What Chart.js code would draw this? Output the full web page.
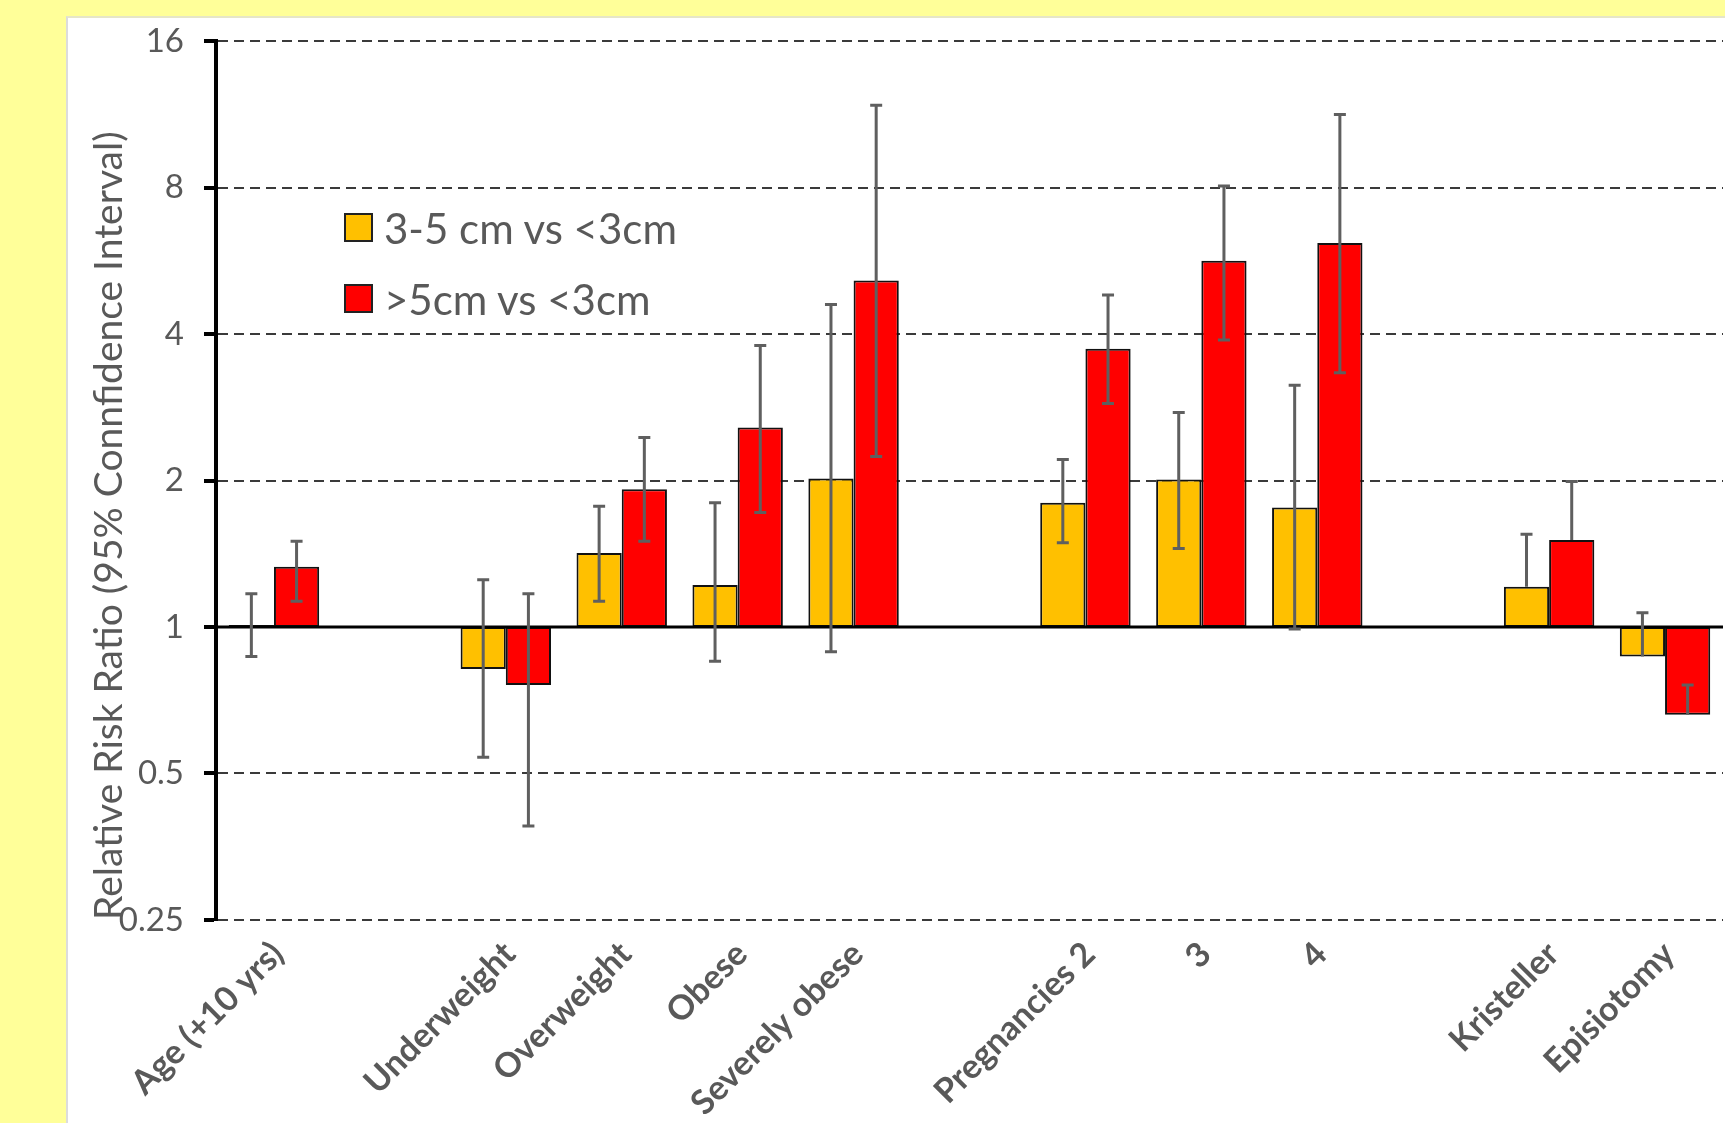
<!DOCTYPE html>
<html>
<head>
<meta charset="utf-8">
<script src="https://cdn.jsdelivr.net/npm/chart.js@4"></script>
<style>
  html, body { margin: 0; padding: 0; background: #FFFF99; width: 1725px; height: 1123px; overflow: hidden; }
  #panel { position: absolute; left: 66px; top: 16px; width: 1665px; height: 1110px; background: #fff; border-left: 2px solid #dcdcdc; border-top: 2px solid #e6e6c8; }
  #wrap { position: absolute; left: 0; top: 0; width: 1725px; height: 1123px; }
  #legend { position: absolute; left: 344px; top: 192px; font-family: Lato, sans-serif; font-size: 42px; color: #595959; }
  #legend .row { height: 71px; display: flex; align-items: center; }
  #legend .box { width: 25px; height: 25px; border: 2px solid #222; margin-right: 11px; }
</style>
</head>
<body>
<div id="panel"></div>
<div id="wrap"><canvas id="riskChart" width="1725" height="1123"></canvas></div>
<div id="legend"></div>
<script>
// categories (empty strings are the gaps between groups)
const categories = ['Age (+10 yrs)', '', 'Underweight', 'Overweight', 'Obese', 'Severely obese', '',
    'Pregnancies 2', '3', '4', '', 'Kristeller', 'Episiotomy'];

const seriesNames = ['3-5 cm vs <3cm', '>5cm vs <3cm'];
const seriesColors = ['#FFC000', '#FF0000'];

// relative risk ratios and 95% CI, 3-5 cm vs <3cm
const rr35 = [1.01, null, 0.82, 1.42, 1.22, 2.02, null, 1.80, 2.01, 1.76, null, 1.21, 0.87];
const lo35 = [0.87, null, 0.54, 1.13, 0.85, 0.89, null, 1.49, 1.45, 0.99, null, null, null];
const hi35 = [1.17, null, 1.25, 1.77, 1.80, 4.60, null, 2.21, 2.76, 3.14, null, 1.55, 1.07];

// >5cm vs <3cm
const rr5 = [1.33, null, 0.76, 1.92, 2.57, 5.15, null, 3.73, 5.66, 6.15, null, 1.51, 0.66];
const lo5 = [1.13, null, 0.39, 1.50, 1.72, 2.24, null, 2.88, 3.89, 3.33, null, null, null];
const hi5 = [1.50, null, 1.17, 2.45, 3.79, 11.8, null, 4.81, 8.06, 11.3, null, 1.99, 0.76];

const yTicks = [0.25, 0.5, 1, 2, 4, 8, 16];

// html legend
const legendEl = document.getElementById('legend');
seriesNames.forEach((name, i) => {
    const row = document.createElement('div');
    row.className = 'row';
    const box = document.createElement('div');
    box.className = 'box';
    box.style.background = seriesColors[i];
    const txt = document.createElement('span');
    txt.textContent = name;
    row.appendChild(box);
    row.appendChild(txt);
    legendEl.appendChild(row);
});

// bars grow from 1 on the log scale
const fromOne = arr => arr.map(v => v == null ? null : [1, v]);

// draws the axis line at 1 and the CI whiskers
const errorBars = {
    id: 'errorBars',
    afterDatasetsDraw(chart) {
        const { ctx, chartArea, scales: { y } } = chart;
        const base = y.getPixelForValue(1);
        ctx.save();
        ctx.strokeStyle = '#000';
        ctx.lineWidth = 3;
        ctx.beginPath();
        ctx.moveTo(chartArea.left, base);
        ctx.lineTo(chartArea.right, base);
        ctx.stroke();

        ctx.strokeStyle = '#5f5f5f';
        ctx.lineWidth = 3;
        chart.data.datasets.forEach((ds, i) => {
            const meta = chart.getDatasetMeta(i);
            meta.data.forEach((bar, j) => {
                const hi = ds.hi[j];
                if (hi == null) return;
                const lo = ds.lo[j];
                const x = bar.x;
                const yHi = y.getPixelForValue(hi);
                const yLo = lo == null ? y.getPixelForValue(ds.rr[j]) : y.getPixelForValue(lo);
                ctx.beginPath();
                ctx.moveTo(x, yHi);
                ctx.lineTo(x, yLo);
                ctx.moveTo(x - 6, yHi);
                ctx.lineTo(x + 6, yHi);
                if (lo != null) {
                    ctx.moveTo(x - 6, yLo);
                    ctx.lineTo(x + 6, yLo);
                }
                ctx.stroke();
            });
        });
        ctx.restore();
    }
};

const ctx = document.getElementById('riskChart').getContext('2d');

const riskChart = new Chart(ctx, {
    type: 'bar',
    data: {
        labels: categories,
        datasets: [{
            label: seriesNames[0],
            data: fromOne(rr35),
            rr: rr35, lo: lo35, hi: hi35,
            backgroundColor: seriesColors[0],
            borderColor: '#111',
            borderWidth: 2,
            borderSkipped: false
        }, {
            label: seriesNames[1],
            data: fromOne(rr5),
            rr: rr5, lo: lo5, hi: hi5,
            backgroundColor: seriesColors[1],
            borderColor: '#111',
            borderWidth: 2,
            borderSkipped: false
        }]
    },
    options: {
        responsive: false,
        animation: false,
        layout: { padding: { top: 41, right: 2, left: 0, bottom: 0 } },
        categoryPercentage: 0.78,
        barPercentage: 1,
        plugins: {
            legend: { display: false },
            tooltip: { enabled: false }
        },
        scales: {
            x: {
                grid: { display: false },
                border: { display: false },
                ticks: {
                    autoSkip: false,
                    maxRotation: 45,
                    minRotation: 45,
                    padding: 6,
                    labelOffset: 4,
                    color: '#595959',
                    font: { family: 'Lato', size: 34, weight: 'bold' }
                },
                afterFit: s => { s.height = 203; }
            },
            y: {
                type: 'logarithmic',
                min: 0.25,
                max: 16,
                afterBuildTicks: s => { s.ticks = yTicks.map(v => ({ value: v })); },
                ticks: {
                    callback: v => String(v),
                    padding: 20,
                    color: '#595959',
                    font: { family: 'Lato', size: 33 }
                },
                grid: {
                    color: '#3a3a3a',
                    lineWidth: 2,
                    tickColor: '#000',
                    tickWidth: 4,
                    tickLength: 12
                },
                border: { display: true, color: '#000', width: 4, dash: [10, 6] },
                title: {
                    display: true,
                    text: 'Relative Risk Ratio (95% Connfidence Interval)',
                    align: 'start',
                    color: '#595959',
                    font: { family: 'Lato', size: 39 },
                    padding: { top: 86, bottom: 0 }
                },
                afterFit: s => { s.width = 216; }
            }
        }
    },
    plugins: [errorBars]
});
</script>
</body>
</html>
